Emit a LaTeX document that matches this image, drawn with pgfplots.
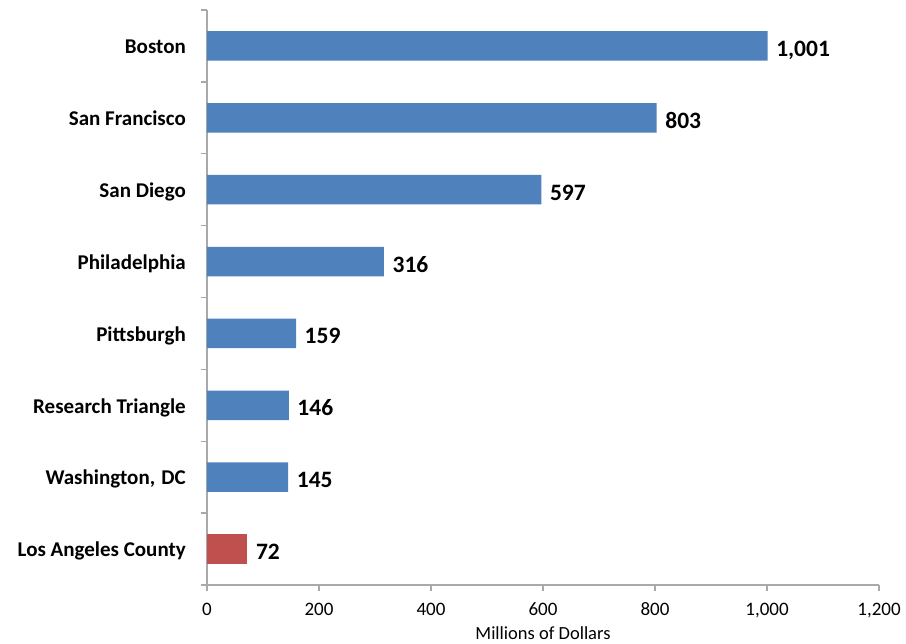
\documentclass[border=0pt]{standalone}
\usepackage{pgfplots}
\pgfplotsset{compat=1.18}
\usepackage{fontspec}
\setmainfont{Carlito}
\definecolor{barblue}{HTML}{4F81BD}
\definecolor{barred}{HTML}{C0504D}
\definecolor{axisgray}{HTML}{A9A9A9}

\begin{document}
\begin{tikzpicture}
\useasboundingbox (0,0) rectangle (906pt,644pt);
\begin{axis}[
  at={(207pt,59pt)}, anchor=south west,
  scale only axis, width=672pt, height=575pt,
  xmin=0, xmax=1200, ymin=-0.5, ymax=7.5,
  xbar, bar width=29.5pt, bar shift=0pt,
  axis lines*=left,
  axis line style={draw=axisgray, line width=1.3pt, -},
  xtick={0,200,...,1200},
  ytick={0,...,7},
  yticklabels={Los Angeles County,{Washington,\hspace{0.3em}DC},Research Triangle,Pittsburgh,Philadelphia,San Diego,San Francisco,Boston},
  minor xtick={0,200,...,1200},
  minor ytick={-0.5,0.5,...,7.5},
  major tick length=0pt,
  minor tick length=6.5pt,
  tick align=outside,
  tick style={draw=axisgray, line width=1.3pt},
  /pgf/number format/1000 sep={,},
  /pgf/number format/assume math mode=true,
  xticklabel style={anchor=base, inner sep=0pt, yshift=-31pt, font=\fontsize{19}{19}\selectfont},
  yticklabel style={anchor=base east, inner sep=0pt, xshift=-21pt, yshift=-7.8pt, font=\bfseries\fontsize{21}{21}\selectfont},
  xlabel={Millions of Dollars},
  xlabel style={at={(axis description cs:0.5,0)}, anchor=base, inner sep=0pt, yshift=-55pt, font=\fontsize{18.5}{18.5}\selectfont},
  point meta=x,
  nodes near coords,
  nodes near coords style={anchor=base west, inner sep=0pt, xshift=8.5pt, yshift=-10.5pt, font=\bfseries\fontsize{23.5}{23.5}\selectfont, text=black},
  clip=false,
]
% blue bars for the seven comparison regions
\addplot[fill=barblue, draw=none] coordinates {(145,1) (146,2) (159,3) (316,4) (597,5) (803,6) (1001,7)};
% highlighted region
\addplot[fill=barred, draw=none] coordinates {(72,0)};
\end{axis}
\end{tikzpicture}
\end{document}
